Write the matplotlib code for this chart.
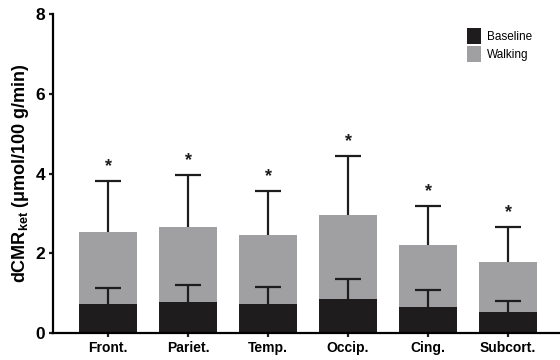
import matplotlib.pyplot as plt
from matplotlib.patches import Patch
import numpy as np

regions = ["Front.", "Pariet.", "Temp.", "Occip.", "Cing.", "Subcort."]
baseline = [0.73, 0.78, 0.73, 0.85, 0.66, 0.53]
baseline_err = [0.39, 0.43, 0.43, 0.50, 0.41, 0.27]
walking = [2.53, 2.66, 2.46, 2.95, 2.21, 1.79]
walking_err = [1.29, 1.30, 1.09, 1.49, 0.97, 0.86]
significant = [True, True, True, True, True, True]

plt.rcParams["font.family"] = ["Liberation Sans", "DejaVu Sans"]
plt.rcParams["mathtext.fontset"] = "custom"
plt.rcParams["mathtext.bf"] = "Liberation Sans:bold"
plt.rcParams["mathtext.rm"] = "Liberation Sans"

black = "#1e1c1d"
gray = "#a0a0a3"

fig = plt.figure(figsize=(5.6, 3.6), dpi=100)
ax = fig.add_axes([0.0946, 0.075, 0.9054, 0.886])

x = np.arange(len(regions))
width = 0.72
cap = 0.33


def upper_error(ax, xs, tops, errs):
    # one-sided error bars: stem from the bar top plus a cap
    ends = np.asarray(tops) + np.asarray(errs)
    ax.vlines(xs, tops, ends, color=black, linewidth=1.6, zorder=3)
    ax.hlines(ends, xs - cap / 2, xs + cap / 2, color=black, linewidth=1.6, zorder=3)
    return ends


ax.bar(x, walking, width, color=gray, zorder=1)
ax.bar(x, baseline, width, color=black, zorder=2)

walk_ends = upper_error(ax, x, walking, walking_err)
upper_error(ax, x, baseline, baseline_err)

for xi, top, sig in zip(x, walk_ends, significant):
    if sig:
        ax.text(xi, top + 0.15, "*", ha="center", va="bottom",
                fontsize=13, fontweight="bold", color=black)

ax.set_xlim(-0.69, 5.65)
ax.set_ylim(0, 8)
ax.set_yticks([0, 2, 4, 6, 8])
ax.set_xticks(x)
ax.set_xticklabels(regions, fontsize=10, fontweight="bold")
for lbl in ax.get_yticklabels():
    lbl.set_fontsize(12.5)
    lbl.set_fontweight("bold")

ax.spines["top"].set_visible(False)
ax.spines["right"].set_visible(False)
ax.spines["left"].set_linewidth(1.6)
ax.spines["bottom"].set_linewidth(1.6)
ax.tick_params(axis="both", width=1.6, length=3, color=black, pad=2.5)

ax.set_ylabel(r"dCMR$_{\mathbf{ket}}$ ($\mathbf{\mu}$mol/100 g/min)",
              fontsize=13, fontweight="bold", labelpad=3)

handles = [Patch(facecolor=black, label="Baseline"),
           Patch(facecolor=gray, label="Walking")]
ax.legend(handles=handles, loc="upper left", bbox_to_anchor=(0.795, 0.99),
          frameon=False, fontsize=8.5, handlelength=1.2, handleheight=1.7,
          handletextpad=0.5, labelspacing=0.2)

fig.savefig("out.png", dpi=100)
